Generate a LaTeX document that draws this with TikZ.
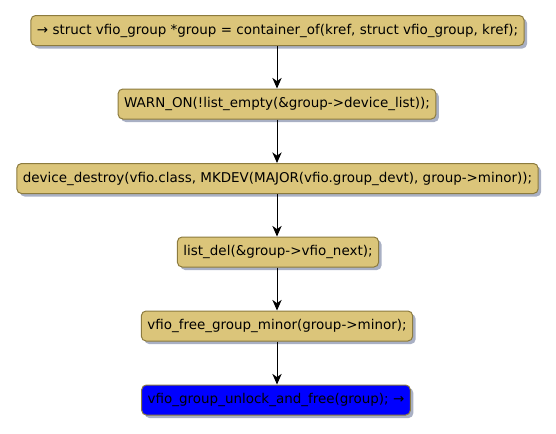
\documentclass[tikz,border=0pt]{standalone}
\usepackage{fontspec}
\setmainfont{DejaVu Sans}
\usetikzlibrary{arrows.meta,shadows}
\definecolor{actfill}{HTML}{DBC57A}
\definecolor{actdraw}{HTML}{8C7B3E}
\definecolor{shad}{HTML}{A9B0C4}
\tikzset{
  act/.style={draw=actdraw, fill=actfill, line width=0.75pt, rounded corners=3.5pt,
    minimum height=22.5pt, inner xsep=4.5pt, inner ysep=0pt,
    font=\fontsize{10.1}{12}\selectfont, text=black,
    drop shadow={shadow xshift=2.25pt, shadow yshift=-2.25pt, fill=shad, opacity=1}},
  lastact/.style={act, fill=blue},
  flow/.style={-{Stealth[length=8pt,width=7pt,inset=2.5pt]}, line width=0.75pt, black}
}
\begin{document}
\begin{tikzpicture}[x=0.75pt,y=-0.75pt]
\useasboundingbox (0,0) rectangle (556,433);
\node[act] (n1) at (277.5,30.5) {→ struct vfio\_group *group = container\_of(kref, struct vfio\_group, kref);};
\node[act] (n2) at (277,104) {WARN\_ON(!list\_empty(\&group->device\_list));};
\node[act] (n3) at (277.5,178.5) {device\_destroy(vfio.class, MKDEV(MAJOR(vfio.group\_devt), group->minor));};
\node[act] (n4) at (278,252) {list\_del(\&group->vfio\_next);};
\node[act] (n5) at (277,326) {vfio\_free\_group\_minor(group->minor);};
\node[lastact] (n6) at (276,400) {vfio\_group\_unlock\_and\_free(group); →};
\draw[flow] (n1.south -| 277,0) -- (n2.north -| 277,0);
\draw[flow] (n2.south -| 277,0) -- (n3.north -| 277,0);
\draw[flow] (n3.south -| 277,0) -- (n4.north -| 277,0);
\draw[flow] (n4.south -| 277,0) -- (n5.north -| 277,0);
\draw[flow] (n5.south -| 277,0) -- (n6.north -| 277,0);
\end{tikzpicture}
\end{document}
